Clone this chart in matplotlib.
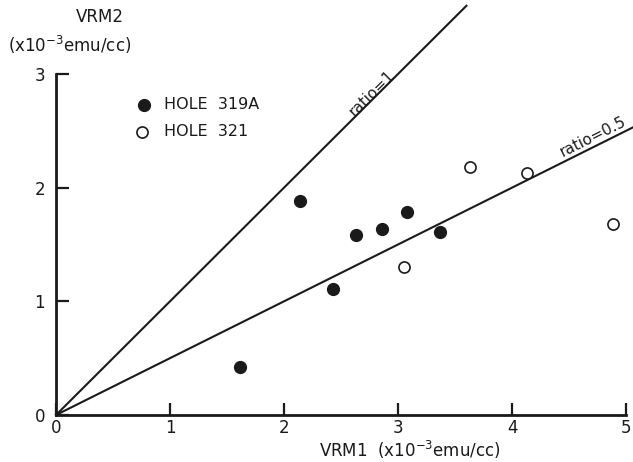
import numpy as np
import matplotlib
matplotlib.use("Agg")
import matplotlib.pyplot as plt

# values (units of 1e-3 emu/cc)
vrm1_319a = [1.61, 2.14, 2.43, 2.63, 2.86, 3.08, 3.37]
vrm2_319a = [0.42, 1.88, 1.11, 1.58, 1.64, 1.79, 1.61]
vrm1_321 = [3.05, 3.63, 4.13, 4.89]
vrm2_321 = [1.30, 2.18, 2.13, 1.68]
ratios = [1.0, 0.5]
ratio_xmax = [3.6, 5.06]
ratio_labels = ["ratio=1", "ratio=0.5"]
xticks = [0, 1, 2, 3, 4, 5]
yticks = [0, 1, 2, 3]

plt.rcParams['font.family'] = ['DejaVu Sans']

fig = plt.figure(figsize=(6.33, 4.62), dpi=100)
ax = fig.add_axes([56/633, 47/462, 570/633, 341/462])
ax.set_xlim(0, 5)
ax.set_ylim(0, 3)

for r, xm in zip(ratios, ratio_xmax):
    xs = np.array([0, xm])
    ax.plot(xs, r*xs, color='#1a1a1a', lw=1.5, clip_on=False, zorder=2)

ax.text(2.77, 2.83, ratio_labels[0], rotation=45, fontsize=11,
        ha='center', va='center', color='#1a1a1a')
ax.text(4.71, 2.45, ratio_labels[1], rotation=26.6, fontsize=11,
        ha='center', va='center', color='#1a1a1a')

ax.plot(vrm1_319a, vrm2_319a, 'o', ms=8.5, color='#1a1a1a', zorder=3, clip_on=False)
ax.plot(vrm1_321, vrm2_321, 'o', ms=8, mfc='white', mec='#1a1a1a', mew=1.2,
        zorder=3, clip_on=False)

# legend drawn by hand
ax.plot([0.77], [2.73], 'o', ms=8.5, color='#1a1a1a', clip_on=False)
ax.plot([0.75], [2.49], 'o', ms=8, mfc='white', mec='#1a1a1a', mew=1.2, clip_on=False)
ax.text(0.95, 2.73, "HOLE  319A", fontsize=11.5, va='center', color='#1a1a1a')
ax.text(0.95, 2.49, "HOLE  321", fontsize=11.5, va='center', color='#1a1a1a')

for s in ['top', 'right']:
    ax.spines[s].set_visible(False)
for s in ['left', 'bottom']:
    ax.spines[s].set_linewidth(2)
    ax.spines[s].set_color('#1a1a1a')

ax.set_xticks(xticks)
ax.set_yticks(yticks)
ax.tick_params(direction='in', length=9, width=1.6, labelsize=12, colors='#1a1a1a')
ax.tick_params(axis='x', pad=3)
ax.tick_params(axis='y', pad=8)

ax.set_xlabel("VRM1  (x10$^{-3}$emu/cc)", fontsize=12, color='#1a1a1a')
ax.xaxis.set_label_coords(0.62, -0.07)
fig.text(100/633, 1 - 17/462, "VRM2", fontsize=12, ha='center', va='center', color='#1a1a1a')
fig.text(70/633, 1 - 45/462, "(x10$^{-3}$emu/cc)", fontsize=12, ha='center', va='center', color='#1a1a1a')

fig.savefig("out.png", dpi=100)
